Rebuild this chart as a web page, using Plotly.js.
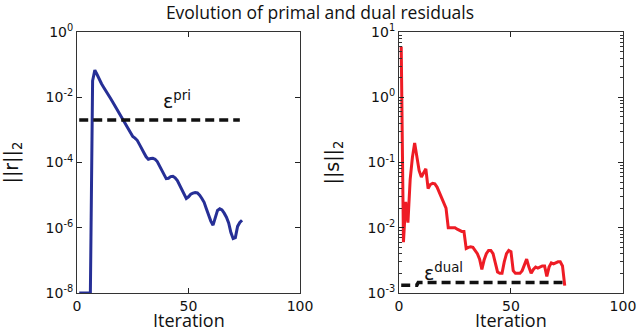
<!DOCTYPE html>
<html><head><meta charset="utf-8">
<script src="https://cdn.plot.ly/plotly-3.0.1.min.js"></script>
<style>html,body{margin:0;padding:0;background:#fff}#c{width:640px;height:327px}</style>
</head><body><div id="c"></div>
<script>
const iterations = [1,2,3,4,5,6,7,8,9,10,11,12,13,14,15,16,17,18,19,20,21,22,23,24,25,26,27,28,29,30,31,32,33,34,35,36,37,38,39,40,41,42,43,44,45,46,47,48,49,50,51,52,53,54,55,56,57,58,59,60,61,62,63,64,65,66,67,68,69,70,71,72,73,74];
const primalResidual = [1e-8,1e-8,1e-8,1e-8,1e-8,1e-8,3.2e-2,6.8e-2,5.0e-2,3.5e-2,2.6e-2,2.0e-2,1.5e-2,1.2e-2,9.3e-3,7.2e-3,5.5e-3,4.3e-3,3.3e-3,2.5e-3,1.9e-3,1.4e-3,1.07e-3,7.9e-4,6.3e-4,5.6e-4,4.8e-4,3.6e-4,2.8e-4,2.0e-4,1.5e-4,1.26e-4,1.32e-4,1.35e-4,1.26e-4,1.07e-4,7.9e-5,5.6e-5,4.0e-5,3.2e-5,3.3e-5,3.7e-5,3.8e-5,3.4e-5,2.8e-5,2.0e-5,1.4e-5,1.0e-5,7.9e-6,8.9e-6,1.07e-5,1.15e-5,1.2e-5,1.17e-5,1.0e-5,7.9e-6,6.0e-6,3.8e-6,2.4e-6,1.6e-6,1.2e-6,2.2e-6,3.4e-6,3.8e-6,3.5e-6,2.8e-6,2.1e-6,1.4e-6,7.1e-7,4.7e-7,5.0e-7,1.1e-6,1.45e-6,1.7e-6];
const dualResidual = [6.0,6.0e-3,2.5e-2,1.2e-2,5.5e-2,1.2e-1,2.0e-1,1.3e-1,7.5e-2,6.0e-2,7.0e-2,8.0e-2,4.0e-2,4.6e-2,4.8e-2,4.7e-2,4.2e-2,3.5e-2,3.0e-2,2.4e-2,2.0e-2,1.0e-2,1.0e-2,1.0e-2,1.0e-2,9.5e-3,9.0e-3,8.8e-3,8.8e-3,4.8e-3,5.0e-3,5.1e-3,5.0e-3,4.5e-3,4.0e-3,3.3e-3,2.3e-3,3.2e-3,4.0e-3,4.5e-3,4.5e-3,4.0e-3,3.0e-3,2.1e-3,2.0e-3,2.0e-3,3.0e-3,4.0e-3,4.5e-3,4.3e-3,2.2e-3,2.0e-3,2.0e-3,2.0e-3,2.2e-3,2.8e-3,3.3e-3,2.5e-3,2.0e-3,2.3e-3,2.5e-3,2.4e-3,2.5e-3,2.6e-3,2.6e-3,1.8e-3,2.5e-3,2.9e-3,2.8e-3,2.9e-3,3.0e-3,3.0e-3,2.6e-3,1.3e-3];
const epsPriIter = [1, 73];
const epsPri = [2e-3, 2e-3];
const epsDualIter = [1, 8, 8.6, 73];
const epsDual = [1.32e-3, 1.32e-3, 1.45e-3, 1.45e-3];
const xTickVals = [0, 50, 100];
const leftTickVals = [1, 1e-2, 1e-4, 1e-6, 1e-8];
const leftTickText = ['10<sup>0</sup>','10<sup>-2</sup>','10<sup>-4</sup>','10<sup>-6</sup>','10<sup>-8</sup>'];
const rightTickVals = [10, 1, 1e-1, 1e-2, 1e-3];
const rightTickText = ['10<sup>1</sup>','10<sup>0</sup>','10<sup>-1</sup>','10<sup>-2</sup>','10<sup>-3</sup>'];
const rightMinorTickVals = [2e-3,3e-3,4e-3,5e-3,6e-3,7e-3,8e-3,9e-3,2e-2,3e-2,4e-2,5e-2,6e-2,7e-2,8e-2,9e-2,2e-1,3e-1,4e-1,5e-1,6e-1,7e-1,8e-1,9e-1,2,3,4,5,6,7,8,9];
const xLabel = 'Iteration';
const leftYLabel = '||r||<sub>2</sub>';
const rightYLabel = '||s||<sub>2</sub>';
const titleText = 'Evolution of primal and dual residuals';

const tickFont = {family: 'DejaVu Sans', size: 14, color: '#111'};
const labelFont = {family: 'Open Sans', size: 18, color: '#111'};
const yLabelFont = {family: 'DejaVu Sans', size: 19, color: '#111'};

const traces = [
  {x: iterations, y: primalResidual, xaxis: 'x', yaxis: 'y', mode: 'lines', line: {color: '#262f96', width: 3}, hoverinfo: 'skip'},
  {x: epsPriIter, y: epsPri, xaxis: 'x', yaxis: 'y', mode: 'lines', line: {color: '#111', width: 3.5, dash: '9px,5px'}, hoverinfo: 'skip'},
  {x: epsDualIter, y: epsDual, xaxis: 'x2', yaxis: 'y3', mode: 'lines', line: {width: 0, color: 'rgba(0,0,0,0)'}, hoverinfo: 'skip'},
  {x: iterations, y: dualResidual, xaxis: 'x2', yaxis: 'y2', mode: 'lines', line: {color: '#ee1c25', width: 3}, hoverinfo: 'skip'},
  {x: epsDualIter, y: epsDual, xaxis: 'x2', yaxis: 'y2', mode: 'lines', line: {color: '#111', width: 3.5, dash: '9px,5px'}, hoverinfo: 'skip'}
];

const xCommon = {
  range: [0, 100], tickvals: xTickVals, ticks: 'inside', ticklen: 5, tickcolor: '#222',
  showline: true, linecolor: '#333', linewidth: 1, mirror: 'ticks', showgrid: false, zeroline: false,
  tickfont: tickFont
};
const layout = {
  width: 640, height: 327, showlegend: false,
  paper_bgcolor: '#fff', plot_bgcolor: '#fff',
  margin: {l: 0, r: 0, t: 0, b: 0},
  title: {text: titleText, font: {family: 'Open Sans', size: 17.5, color: '#111'}, x: 0.5, xanchor: 'center', y: 0.962, yanchor: 'middle'},
  xaxis: Object.assign({}, xCommon, {domain: [0.1203, 0.4688], anchor: 'y'}),
  xaxis2: Object.assign({}, xCommon, {domain: [0.6234, 0.9734], anchor: 'y2'}),
  yaxis: {
    type: 'log', range: [-8, 0], domain: [0.104, 0.902], anchor: 'x',
    tickmode: 'array', tickvals: leftTickVals, ticktext: leftTickText,
    ticks: 'inside', ticklen: 5, tickcolor: '#222', showline: true, linecolor: '#333', linewidth: 1, mirror: 'ticks',
    showgrid: false, zeroline: false, tickfont: tickFont
  },
  yaxis2: {
    type: 'log', range: [-3, 1], domain: [0.104, 0.902], anchor: 'x2',
    tickmode: 'array', tickvals: rightTickVals, ticktext: rightTickText,
    ticks: 'inside', ticklen: 5, tickcolor: '#222', showline: true, linecolor: '#333', linewidth: 1, mirror: 'ticks',
    showgrid: false, zeroline: false, tickfont: tickFont
  },
  yaxis3: {
    type: 'log', range: [-3, 1], domain: [0.104, 0.902], anchor: 'x2', overlaying: 'y2', side: 'left',
    tickmode: 'array', tickvals: rightMinorTickVals, showticklabels: false,
    ticks: 'inside', ticklen: 3, tickwidth: 1, tickcolor: '#333', showline: true, linecolor: '#333', linewidth: 1, mirror: 'ticks',
    showgrid: false, zeroline: false
  },
  annotations: [
    {xref: 'x domain', yref: 'paper', x: 0.5, y: 0, yshift: -7, text: xLabel, showarrow: false, xanchor: 'center', yanchor: 'bottom', font: labelFont},
    {xref: 'x2 domain', yref: 'paper', x: 0.5, y: 0, yshift: -7, text: xLabel, showarrow: false, xanchor: 'center', yanchor: 'bottom', font: labelFont},
    {xref: 'paper', yref: 'y domain', x: 13/640, y: 0.5, text: leftYLabel, textangle: -90, showarrow: false, xanchor: 'center', yanchor: 'middle', font: yLabelFont},
    {xref: 'paper', yref: 'y2 domain', x: 334/640, y: 0.5, text: rightYLabel, textangle: -90, showarrow: false, xanchor: 'center', yanchor: 'middle', font: yLabelFont},
    {xref: 'x', yref: 'y', x: 45, y: -2.52, text: 'ε<sup>pri</sup>', showarrow: false, xanchor: 'center', yanchor: 'bottom', font: {family: 'DejaVu Sans', size: 19, color: '#111'}},
    {xref: 'x2', yref: 'y2', x: 20, y: -2.9, text: 'ε<sup>dual</sup>', showarrow: false, xanchor: 'center', yanchor: 'bottom', font: {family: 'DejaVu Sans', size: 19, color: '#111'}}
  ]
};
Plotly.newPlot('c', traces, layout, {staticPlot: true, displayModeBar: false});
</script></body></html>
